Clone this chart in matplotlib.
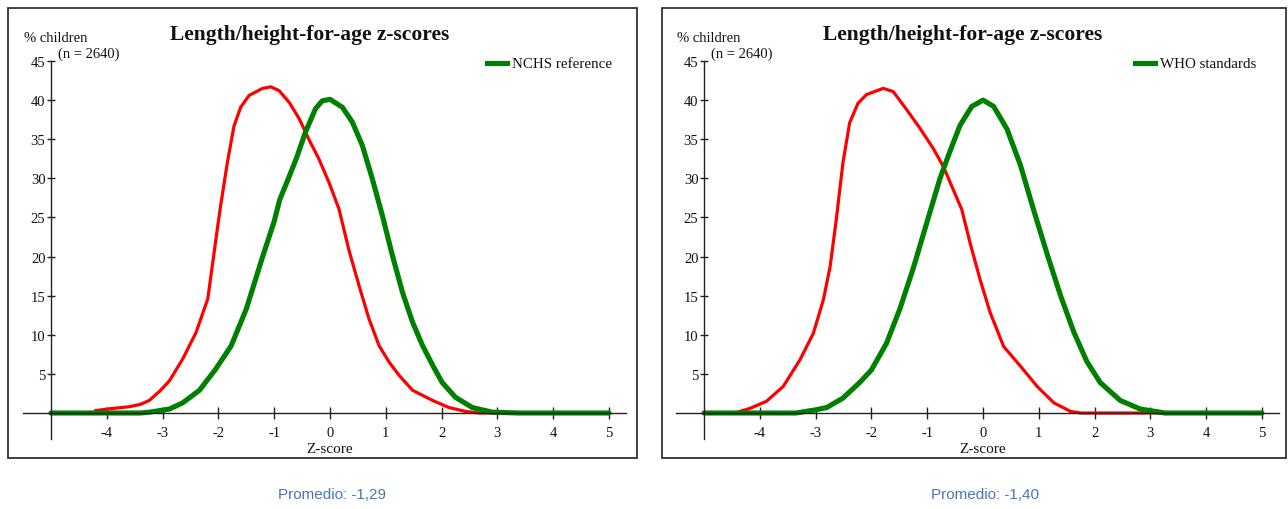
import matplotlib.pyplot as plt
from matplotlib.patches import Rectangle

plt.rcParams['axes.unicode_minus'] = False

W, H = 1288, 510

# observed z-score distribution vs NCHS reference
nchs_obs_z = [-4.2, -4.0, -3.6, -3.4, -3.24, -3.05, -2.88, -2.64, -2.4, -2.19, -2.11, -2.02,
              -1.96, -1.84, -1.72, -1.6, -1.45, -1.21, -1.06, -0.91, -0.73, -0.55, -0.38,
              -0.2, -0.02, 0.16, 0.34, 0.52, 0.7, 0.88, 1.06, 1.24, 1.48, 1.84, 2.13,
              2.43, 2.67, 3.27]
nchs_obs_pct = [0.3, 0.5, 0.8, 1.1, 1.6, 2.8, 4.1, 6.9, 10.3, 14.6, 18.8, 23.5,
                26.5, 32.0, 36.7, 39.1, 40.6, 41.5, 41.7, 41.2, 39.7, 37.6, 35.0,
                32.5, 29.5, 26.1, 20.8, 16.3, 12.0, 8.6, 6.5, 4.8, 2.9, 1.6, 0.7,
                0.2, 0.0, 0.0]
nchs_ref_z = [-5.0, -3.4, -3.24, -2.88, -2.64, -2.34, -2.05, -1.77, -1.5, -1.22,
              -1.0, -0.9, -0.75, -0.6, -0.44, -0.26, -0.14, 0.0, 0.22, 0.4, 0.58, 0.76,
              0.94, 1.12, 1.3, 1.48, 1.66, 1.84, 2.01, 2.25, 2.55, 2.91, 3.39, 5.0]
nchs_ref_pct = [0.0, 0.0, 0.1, 0.5, 1.3, 2.9, 5.6, 8.6, 13.3, 19.7,
                24.5, 27.3, 29.9, 32.6, 35.9, 38.9, 39.9, 40.1, 39.1, 37.2, 34.2, 29.9,
                25.2, 20.1, 15.4, 11.6, 8.6, 6.1, 3.9, 2.0, 0.7, 0.1, 0.0, 0.0]

# observed z-score distribution vs WHO standards
who_obs_z = [-4.36, -4.17, -3.88, -3.58, -3.28, -3.04, -2.86, -2.74, -2.63, -2.51, -2.39,
             -2.24, -2.09, -1.79, -1.61, -1.37, -1.13, -0.89, -0.71, -0.53, -0.38, -0.23,
             -0.05, 0.13, 0.37, 0.67, 0.97, 1.27, 1.57, 1.75, 3.26]
who_obs_pct = [0.2, 0.6, 1.5, 3.4, 6.8, 10.2, 14.5, 18.7, 24.7, 32.0, 37.1,
               39.6, 40.7, 41.5, 41.1, 38.8, 36.4, 33.8, 31.5, 28.5, 26.0, 21.7,
               17.0, 12.8, 8.5, 6.0, 3.4, 1.3, 0.2, 0.0, 0.0]
who_ref_z = [-5.0, -3.35, -3.0, -2.8, -2.51, -2.21, -2.0, -1.73, -1.49, -1.25, -1.0, -0.77,
             -0.59, -0.41, -0.2, 0.0, 0.19, 0.43, 0.67, 0.91, 1.15, 1.39, 1.63, 1.86, 2.1,
             2.46, 2.82, 3.0, 3.26, 5.0]
who_ref_pct = [0.0, 0.0, 0.4, 0.7, 1.9, 3.9, 5.5, 8.9, 13.3, 18.5, 24.5, 30.0,
               33.5, 36.8, 39.2, 40.0, 39.2, 36.3, 31.7, 25.9, 20.3, 15.0, 10.3, 6.6, 3.9,
               1.6, 0.5, 0.3, 0.0, 0.0]

x_ticks = [-4, -3, -2, -1, 0, 1, 2, 3, 4, 5]
y_ticks = [5, 10, 15, 20, 25, 30, 35, 40, 45]
title = 'Length/height-for-age z-scores'
ref_labels = ['NCHS reference', 'WHO standards']
promedios = ['Promedio: -1,29', 'Promedio: -1,40']

SERIF = 'Liberation Serif'
RED = '#ff0000'
GREEN = '#008000'
AXC = '#222222'

fig = plt.figure(figsize=(W / 100, H / 100), dpi=100)


def fx(px):
    return px / W


def fy(py):
    return 1 - py / H


def panel(box_l, box_r, x0, obs_z, obs_pct, ref_z, ref_pct, ref_label, promedio, leg_x):
    # frame around the panel
    fig.patches.append(Rectangle((fx(box_l), fy(459)), fx(box_r - box_l), (459 - 9) / H,
                                 transform=fig.transFigure, fill=False,
                                 edgecolor='#333333', linewidth=1.3))
    ppx, ppy, y0 = 55.8, 7.822, 414
    xlim, ylim = (-5.5, 5.3), (-3.4, 46)
    left = x0 + (xlim[0] + 5) * ppx
    right = x0 + (xlim[1] + 5) * ppx
    top = y0 - ylim[1] * ppy
    bottom = y0 - ylim[0] * ppy
    ax = fig.add_axes([fx(left), fy(bottom), fx(right - left), (bottom - top) / H])
    ax.set_xlim(xlim)
    ax.set_ylim(ylim)
    ax.patch.set_alpha(0)

    ax.plot(obs_z, obs_pct, color=RED, lw=2.3, solid_joinstyle='round')
    ax.plot(ref_z, ref_pct, color=GREEN, lw=3.7, solid_joinstyle='round',
            solid_capstyle='round')

    for s in ['top', 'right']:
        ax.spines[s].set_visible(False)
    ax.spines['left'].set_position(('data', -5))
    ax.spines['left'].set_bounds(-3.3, 45)
    ax.spines['bottom'].set_position(('data', 0))
    ax.spines['bottom'].set_bounds(-5.5, 5.3)
    for s in ['left', 'bottom']:
        ax.spines[s].set_color(AXC)
        ax.spines[s].set_linewidth(1.0)

    ax.set_xticks(x_ticks)
    ax.set_yticks(y_ticks)
    ax.tick_params(axis='x', direction='inout', length=9, width=1, color=AXC, pad=5)
    ax.tick_params(axis='y', direction='inout', length=6, width=1, color=AXC, pad=1)
    for lab in ax.get_xticklabels() + ax.get_yticklabels():
        lab.set_fontfamily(SERIF)
        lab.set_fontsize(10.5)
        lab.set_color('#111111')

    cx = x0 + 5 * ppx
    fig.text(fx(x0 - 27), fy(38), '% children', family=SERIF, fontsize=10.5,
             ha='left', va='center', color='#111111')
    fig.text(fx(x0 + 7), fy(54), '(n = 2640)', family=SERIF, fontsize=10.5,
             ha='left', va='center', color='#111111')
    fig.text(fx(cx - 20), fy(35), title, family=SERIF, fontsize=15.5, fontweight='bold',
             ha='center', va='center', color='#111111')
    fig.add_artist(plt.Line2D([fx(leg_x), fx(leg_x + 20)], [fy(64), fy(64)],
                              color=GREEN, lw=3.7))
    fig.text(fx(leg_x + 25), fy(64), ref_label, family=SERIF, fontsize=10.8,
             ha='left', va='center', color='#111111')
    fig.text(fx(cx), fy(450), 'Z-score', family=SERIF, fontsize=11,
             ha='center', va='center', color='#111111')
    fig.text(fx(cx + 2), fy(495), promedio, family='Liberation Sans', fontsize=11,
             ha='center', va='center', color='#4a76b4')


panel(8, 637, 51, nchs_obs_z, nchs_obs_pct, nchs_ref_z, nchs_ref_pct,
      ref_labels[0], promedios[0], 487)
panel(662, 1286, 704, who_obs_z, who_obs_pct, who_ref_z, who_ref_pct,
      ref_labels[1], promedios[1], 1135)

fig.savefig('out.png', dpi=100, facecolor='white')
